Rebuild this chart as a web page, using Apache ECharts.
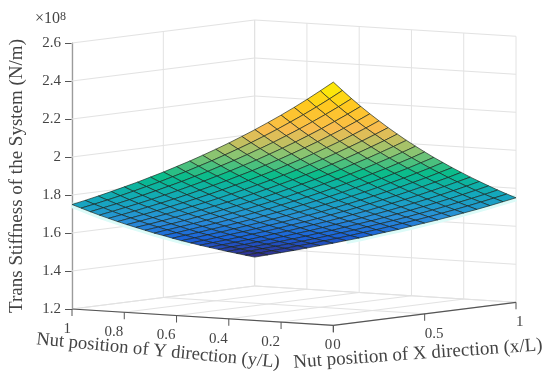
<!DOCTYPE html>
<html>
<head>
<meta charset="utf-8">
<style>
html, body { margin: 0; padding: 0; background: #fff; }
#main { width: 550px; height: 378px; }
</style>
<script src="https://cdn.jsdelivr.net/npm/echarts@6/dist/echarts.min.js"></script>
</head>
<body>
<div id="main"></div>
<script>
// x/L along the rows, y/L along the columns
var xPositions = [0, 0.05, 0.1, 0.15, 0.2, 0.25, 0.3, 0.35, 0.4, 0.45, 0.5, 0.55, 0.6, 0.65, 0.7, 0.75, 0.8, 0.85, 0.9, 0.95, 1];
var yPositions = [0, 0.05, 0.1, 0.15, 0.2, 0.25, 0.3, 0.35, 0.4, 0.45, 0.5, 0.55, 0.6, 0.65, 0.7, 0.75, 0.8, 0.85, 0.9, 0.95, 1];
// stiffness in 1e8 N/m, one row per x position
var stiffness = [
  [2.480,2.430,2.381,2.334,2.289,2.246,2.204,2.164,2.125,2.088,2.052,2.017,1.984,1.951,1.920,1.889,1.860,1.831,1.803,1.776,1.750],
  [2.430,2.381,2.334,2.289,2.246,2.204,2.164,2.125,2.088,2.052,2.017,1.984,1.951,1.920,1.889,1.860,1.831,1.803,1.776,1.750,1.725],
  [2.381,2.334,2.289,2.246,2.204,2.164,2.125,2.088,2.052,2.017,1.984,1.951,1.920,1.889,1.860,1.831,1.803,1.776,1.750,1.725,1.700],
  [2.334,2.289,2.246,2.204,2.164,2.125,2.088,2.052,2.017,1.984,1.951,1.920,1.889,1.860,1.831,1.803,1.776,1.750,1.725,1.700,1.676],
  [2.289,2.246,2.204,2.164,2.125,2.088,2.052,2.017,1.984,1.951,1.920,1.889,1.860,1.831,1.803,1.776,1.750,1.725,1.700,1.676,1.653],
  [2.246,2.204,2.164,2.125,2.088,2.052,2.017,1.984,1.951,1.920,1.889,1.860,1.831,1.803,1.776,1.750,1.725,1.700,1.676,1.653,1.630],
  [2.204,2.164,2.125,2.088,2.052,2.017,1.984,1.951,1.920,1.889,1.860,1.831,1.803,1.776,1.750,1.725,1.700,1.676,1.653,1.630,1.608],
  [2.164,2.125,2.088,2.052,2.017,1.984,1.951,1.920,1.889,1.860,1.831,1.803,1.776,1.750,1.725,1.700,1.676,1.653,1.630,1.608,1.587],
  [2.125,2.088,2.052,2.017,1.984,1.951,1.920,1.889,1.860,1.831,1.803,1.776,1.750,1.725,1.700,1.676,1.653,1.630,1.608,1.587,1.566],
  [2.088,2.052,2.017,1.984,1.951,1.920,1.889,1.860,1.831,1.803,1.776,1.750,1.725,1.700,1.676,1.653,1.630,1.608,1.587,1.566,1.545],
  [2.052,2.017,1.984,1.951,1.920,1.889,1.860,1.831,1.803,1.776,1.750,1.725,1.700,1.676,1.653,1.630,1.608,1.587,1.566,1.545,1.526],
  [2.017,1.984,1.951,1.920,1.889,1.860,1.831,1.803,1.776,1.750,1.725,1.700,1.676,1.653,1.630,1.608,1.587,1.566,1.545,1.526,1.506],
  [1.984,1.951,1.920,1.889,1.860,1.831,1.803,1.776,1.750,1.725,1.700,1.676,1.653,1.630,1.608,1.587,1.566,1.545,1.526,1.506,1.487],
  [1.951,1.920,1.889,1.860,1.831,1.803,1.776,1.750,1.725,1.700,1.676,1.653,1.630,1.608,1.587,1.566,1.545,1.526,1.506,1.487,1.469],
  [1.920,1.889,1.860,1.831,1.803,1.776,1.750,1.725,1.700,1.676,1.653,1.630,1.608,1.587,1.566,1.545,1.526,1.506,1.487,1.469,1.451],
  [1.889,1.860,1.831,1.803,1.776,1.750,1.725,1.700,1.676,1.653,1.630,1.608,1.587,1.566,1.545,1.526,1.506,1.487,1.469,1.451,1.434],
  [1.860,1.831,1.803,1.776,1.750,1.725,1.700,1.676,1.653,1.630,1.608,1.587,1.566,1.545,1.526,1.506,1.487,1.469,1.451,1.434,1.417],
  [1.831,1.803,1.776,1.750,1.725,1.700,1.676,1.653,1.630,1.608,1.587,1.566,1.545,1.526,1.506,1.487,1.469,1.451,1.434,1.417,1.400],
  [1.803,1.776,1.750,1.725,1.700,1.676,1.653,1.630,1.608,1.587,1.566,1.545,1.526,1.506,1.487,1.469,1.451,1.434,1.417,1.400,1.384],
  [1.776,1.750,1.725,1.700,1.676,1.653,1.630,1.608,1.587,1.566,1.545,1.526,1.506,1.487,1.469,1.451,1.434,1.417,1.400,1.384,1.368],
  [1.750,1.725,1.700,1.676,1.653,1.630,1.608,1.587,1.566,1.545,1.526,1.506,1.487,1.469,1.451,1.434,1.417,1.400,1.384,1.368,1.352]
];
var xTicks = [0, 0.5, 1];
var yTicks = [0, 0.2, 0.4, 0.6, 0.8, 1];
var zTicks = [1.2, 1.4, 1.6, 1.8, 2, 2.2, 2.4, 2.6];
var surfaceColors = ["#352a87", "#1a5fd8", "#2a90d8", "#14a8bc", "#08bc8c", "#90c470", "#f8bc50", "#ffc81f", "#fbf600"];

var zMin = 1.2, zMax = 2.6;
var cMin = 1.352, cMax = 2.48;
// oblique view: where the floor corner x=0,y=0 sits and how much the floor climbs
var frontAt = 0.5886;     // share of the grid width
var frontDrop = 0.0858;   // in z units, front corner below the y=1,x=0 corner
var rightRise = 0.1211;   // in z units, x=1 above x=0
var serif = '"Liberation Serif", serif';
var textColor = "#444";
var gridColor = "#e2e2e2";
var axisColor = "#555";

function project(api, x, y, z) {
  var h = frontAt * (1 - y) + (1 - frontAt) * x;
  return api.coord([h, z - frontDrop * (1 - y) + rightRise * x]);
}

function line3d(api, a, b, color, width) {
  return {
    type: "polyline",
    shape: { points: [project(api, a[0], a[1], a[2]), project(api, b[0], b[1], b[2])] },
    style: { stroke: color, lineWidth: width, fill: null }
  };
}

function renderBox(params, api) {
  var kids = [];
  zTicks.forEach(function (z) {
    kids.push(line3d(api, [0, 1, z], [1, 1, z], gridColor, 1));
    kids.push(line3d(api, [1, 1, z], [1, 0, z], gridColor, 1));
  });
  xTicks.forEach(function (x) {
    kids.push(line3d(api, [x, 0, zMin], [x, 1, zMin], gridColor, 1));
    kids.push(line3d(api, [x, 1, zMin], [x, 1, zMax], gridColor, 1));
  });
  yTicks.forEach(function (y) {
    kids.push(line3d(api, [0, y, zMin], [1, y, zMin], gridColor, 1));
    kids.push(line3d(api, [1, y, zMin], [1, y, zMax], gridColor, 1));
  });
  // front edges of the floor
  kids.push(line3d(api, [0, 1, zMin], [0, 0, zMin], axisColor, 1.2));
  kids.push(line3d(api, [0, 0, zMin], [1, 0, zMin], axisColor, 1.2));
  yTicks.forEach(function (y) {
    var p = project(api, 0, y, zMin);
    kids.push({ type: "line", shape: { x1: p[0], y1: p[1], x2: p[0], y2: p[1] + 7 }, style: { stroke: axisColor, lineWidth: 1 } });
    kids.push({ type: "text", x: p[0] - 1, y: p[1] + 20, style: { text: String(y), fill: textColor, font: "15px " + serif, align: "right", verticalAlign: "middle" } });
  });
  xTicks.forEach(function (x) {
    var p = project(api, x, 0, zMin);
    kids.push({ type: "line", shape: { x1: p[0], y1: p[1], x2: p[0], y2: p[1] + 7 }, style: { stroke: axisColor, lineWidth: 1 } });
    kids.push({ type: "text", x: p[0], y: p[1] + 20, style: { text: String(x), fill: textColor, font: "15px " + serif, align: "left", verticalAlign: "middle" } });
  });
  // pale fringe under the outer part of the lower edges
  var last = xPositions.length - 1;
  var fringeLeft = [], fringeRight = [];
  for (var k = 0; k <= 13; k++) {
    fringeLeft.push(project(api, xPositions[k], 1, stiffness[k][last]));
    fringeRight.push(project(api, 1, yPositions[k], stiffness[last][k]));
  }
  kids.push({ type: "polyline", shape: { points: fringeLeft }, style: { stroke: "#dcfbf8", lineWidth: 7, fill: null } });
  kids.push({ type: "polyline", shape: { points: fringeRight }, style: { stroke: "#dcfbf8", lineWidth: 7, fill: null } });
  return { type: "group", children: kids };
}

function renderCell(params, api) {
  var i = api.value(0), j = api.value(1);
  var corners = [[i, j], [i + 1, j], [i + 1, j + 1], [i, j + 1]];
  var sum = 0;
  var points = corners.map(function (c) {
    var z = stiffness[c[0]][c[1]];
    sum += z;
    return project(api, xPositions[c[0]], yPositions[c[1]], z);
  });
  var t = (sum / 4 - cMin) / (cMax - cMin);
  return {
    type: "polygon",
    shape: { points: points },
    style: { fill: echarts.color.lerp(t, surfaceColors), stroke: "rgba(25,35,30,0.72)", lineWidth: 0.9 }
  };
}

var cells = [];
for (var i = 0; i < xPositions.length - 1; i++) {
  for (var j = 0; j < yPositions.length - 1; j++) {
    cells.push([i, j]);
  }
}

var chart = echarts.init(document.getElementById("main"), null, { renderer: "canvas" });
chart.setOption({
  animation: false,
  backgroundColor: "#fff",
  grid: { left: 70.5, top: 43, width: 445.5, height: 266 },
  xAxis: { type: "value", min: 0, max: 1, show: false },
  yAxis: {
    type: "value",
    min: zMin,
    max: zMax,
    interval: 0.2,
    axisLine: { show: true, lineStyle: { color: axisColor, width: 1.2 } },
    axisTick: { show: true, length: 7, lineStyle: { color: axisColor } },
    axisLabel: { color: textColor, fontFamily: serif, fontSize: 15, margin: 11 },
    splitLine: { show: false },
    name: "Trans Stiffness of the System (N/m)",
    nameLocation: "middle",
    nameGap: 45,
    nameRotate: 90,
    nameTextStyle: { color: textColor, fontFamily: serif, fontSize: 19 }
  },
  graphic: [
    {
      type: "text", left: 35, top: 11,
      style: {
        text: "{a|×10}{b|8}",
        rich: {
          a: { font: "16px " + serif, fill: textColor, verticalAlign: "bottom" },
          b: { font: "12px " + serif, fill: textColor, verticalAlign: "top" }
        }
      }
    },
    {
      type: "text", x: 158, y: 351, rotation: -5.5 * Math.PI / 180,
      style: { text: "Nut position of Y direction (y/L)", fill: textColor, font: "18.6px " + serif, align: "center", verticalAlign: "middle" }
    },
    {
      type: "text", x: 418, y: 354, rotation: 4 * Math.PI / 180,
      style: { text: "Nut position of X direction (x/L)", fill: textColor, font: "19px " + serif, align: "center", verticalAlign: "middle" }
    }
  ],
  series: [
    { type: "custom", coordinateSystem: "cartesian2d", renderItem: renderBox, data: [[0, zMin]], silent: true, clip: false, z: 1 },
    { type: "custom", coordinateSystem: "cartesian2d", renderItem: renderCell, data: cells, encode: { x: -1, y: -1 }, silent: true, clip: false, z: 2 }
  ]
});
</script>
</body>
</html>
